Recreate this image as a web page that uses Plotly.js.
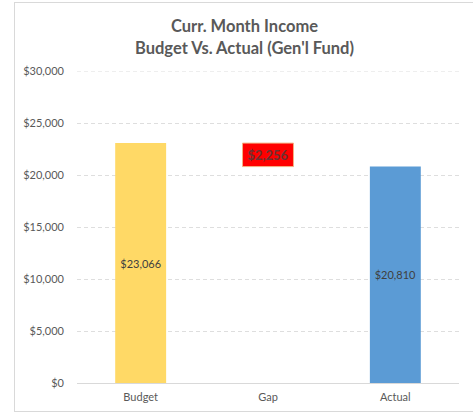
<!DOCTYPE html>
<html>
<head>
<meta charset="utf-8">
<script src="https://cdn.plot.ly/plotly-3.0.1.min.js"></script>
<style>
html,body{margin:0;padding:0;background:#fff;width:473px;height:413px;overflow:hidden;}
#frame{position:absolute;left:14px;top:2px;width:480px;height:408px;border:1px solid #d9d9d9;box-sizing:content-box;}
#chart{position:absolute;left:0;top:0;width:459px;height:408px;}
</style>
</head>
<body>
<div id="frame"><div id="chart"></div></div>
<script>
const categories = ["Budget", "Gap", "Actual"];
const values = [23066, 2256, 20810];
const bases = [0, 20810, 0];
const barColors = ["#FFD966", "#FF0000", "#5B9BD5"];
const yTickVals = [0, 5000, 10000, 15000, 20000, 25000, 30000];
const yMax = 30000;

const labels = values.map((v, i) => {
  const s = "$" + v.toLocaleString("en-US");
  return categories[i] === "Gap" ? "<b>" + s + "</b>" : s;
});

const trace = {
  type: "bar",
  x: categories,
  y: values,
  base: bases,
  marker: {
    color: barColors,
    line: {color: ["rgba(0,0,0,0)", "#F4B183", "rgba(0,0,0,0)"], width: 1}
  },
  text: labels,
  textposition: "inside",
  insidetextanchor: "middle",
  textangle: 0,
  constraintext: "none",
  textfont: {family: "Lato, 'Open Sans', sans-serif", size: [11, 13, 11], color: ["#404040", "#6e3030", "#404040"]},
  hoverinfo: "none"
};

const layout = {
  width: 459,
  height: 408,
  margin: {l: 62, r: 15, t: 68, b: 28},
  paper_bgcolor: "#ffffff",
  plot_bgcolor: "#ffffff",
  showlegend: false,
  bargap: 0.6,
  font: {family: "Lato, 'Open Sans', sans-serif", color: "#595959", size: 11},
  title: {
    text: "<b>Curr. Month Income<br>Budget Vs. Actual (Gen'l Fund)</b>",
    x: 0.5, xanchor: "center", xref: "container",
    y: 0.928, yanchor: "top", yref: "container",
    font: {family: "Lato, 'Open Sans', sans-serif", size: 16.5, color: "#595959"}
  },
  shapes: [{
    type: "line", xref: "paper", yref: "y", layer: "below",
    x0: 0, x1: 1, y0: yMax, y1: yMax,
    line: {color: "#dedede", width: 1, dash: "4px,3px"}
  }],
  xaxis: {
    type: "category",
    showline: true, linecolor: "#d9d9d9", linewidth: 1,
    showgrid: false, zeroline: false,
    ticks: "", ticklabelstandoff: 4,
    tickfont: {size: 11, color: "#595959"},
    fixedrange: true
  },
  yaxis: {
    range: [0, yMax],
    tickvals: yTickVals,
    ticktext: yTickVals.map(v => "$" + v.toLocaleString("en-US")),
    showgrid: true, gridcolor: "#dedede", griddash: "4px,3px", gridwidth: 1,
    zeroline: false, showline: false,
    ticks: "", ticklabelstandoff: 12,
    tickfont: {size: 11, color: "#595959"},
    fixedrange: true
  }
};

Plotly.newPlot("chart", [trace], layout, {displayModeBar: false, staticPlot: true});
</script>
</body>
</html>
